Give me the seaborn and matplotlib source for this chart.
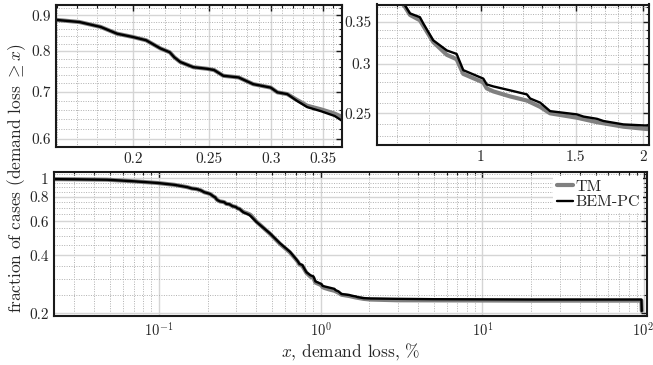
import numpy as np
import pandas as pd
import matplotlib
matplotlib.use("Agg")
import matplotlib.pyplot as plt
import seaborn as sns
from matplotlib.ticker import MultipleLocator, FuncFormatter, NullFormatter, LogLocator

# ---- data ----
bem_x = [0.0226, 0.03, 0.048, 0.07, 0.098, 0.125, 0.15, 0.16, 0.171, 0.182, 0.191, 0.200,
         0.208, 0.217, 0.223, 0.226, 0.230, 0.239, 0.249, 0.254, 0.261, 0.273, 0.285, 0.300,
         0.306, 0.315, 0.324, 0.334, 0.348, 0.362, 0.370, 0.40, 0.486, 0.561, 0.646, 0.70,
         0.723, 0.739, 0.771, 0.782, 0.816, 0.865, 0.902, 0.928, 1.011, 1.026, 1.055, 1.134,
         1.218, 1.235, 1.289, 1.345, 1.508, 1.552, 1.643, 1.69, 1.84, 2.03, 3.0, 5.0, 20.0,
         96.0, 96.5]
bem_y = [0.990, 0.988, 0.983, 0.965, 0.946, 0.925, 0.900, 0.886, 0.880, 0.866, 0.847, 0.838,
         0.829, 0.807, 0.797, 0.784, 0.772, 0.759, 0.755, 0.752, 0.738, 0.734, 0.718, 0.710,
         0.699, 0.695, 0.680, 0.666, 0.657, 0.647, 0.637, 0.596, 0.519, 0.461, 0.417, 0.385,
         0.372, 0.361, 0.356, 0.348, 0.327, 0.315, 0.311, 0.293, 0.284, 0.278, 0.276, 0.272,
         0.268, 0.264, 0.260, 0.252, 0.249, 0.247, 0.245, 0.243, 0.240, 0.239, 0.238, 0.237,
         0.236, 0.236, 0.206]

tm_x = [0.0226, 0.03, 0.048, 0.07, 0.098, 0.125, 0.15, 0.16, 0.171, 0.182, 0.191, 0.200,
        0.208, 0.217, 0.223, 0.226, 0.230, 0.239, 0.249, 0.254, 0.261, 0.273, 0.285, 0.300,
        0.306, 0.315, 0.324, 0.334, 0.348, 0.362, 0.370, 0.40, 0.486, 0.561, 0.646, 0.70,
        0.723, 0.739, 0.771, 0.782, 0.816, 0.865, 0.902, 0.928, 1.011, 1.026, 1.055, 1.134,
        1.218, 1.289, 1.345, 1.508, 1.643, 1.84, 2.03, 3.0, 20.0, 96.0, 96.5]
tm_y = [0.990, 0.988, 0.983, 0.965, 0.946, 0.925, 0.900, 0.886, 0.880, 0.866, 0.847, 0.838,
        0.829, 0.807, 0.797, 0.784, 0.772, 0.759, 0.755, 0.752, 0.738, 0.734, 0.718, 0.710,
        0.699, 0.695, 0.682, 0.669, 0.661, 0.652, 0.645, 0.598, 0.517, 0.458, 0.414, 0.383,
        0.370, 0.359, 0.352, 0.345, 0.325, 0.310, 0.305, 0.289, 0.280, 0.274, 0.271, 0.266,
        0.262, 0.256, 0.250, 0.246, 0.242, 0.238, 0.236, 0.234, 0.233, 0.233, 0.206]

methods = ["TM", "BEM-PC"]

df = pd.concat([
    pd.DataFrame({"x": tm_x, "y": tm_y, "method": "TM"}),
    pd.DataFrame({"x": bem_x, "y": bem_y, "method": "BEM-PC"}),
], ignore_index=True)

# ---- style ----
sns.set_theme(style="white")
plt.rcParams.update({
    "font.family": "serif",
    "font.serif": ["cmr10", "DejaVu Serif"],
    "mathtext.fontset": "cm",
    "axes.formatter.use_mathtext": True,
    "axes.unicode_minus": False,
    "font.size": 11,
})

palette = {"TM": "#808080", "BEM-PC": "#000000"}
sizes = {"TM": 3.0, "BEM-PC": 1.7}

W, H = 653, 365
fig = plt.figure(figsize=(W / 100, H / 100), dpi=100)

def rect(l, r, t, b):
    return [l / W, 1 - b / H, (r - l) / W, (b - t) / H]

ax1 = fig.add_axes(rect(56, 342, 4.5, 146.7))
ax2 = fig.add_axes(rect(376.7, 648.7, 4.5, 145))
ax3 = fig.add_axes(rect(54.3, 646.7, 172.3, 316))

gfmt = FuncFormatter(lambda v, p: "%g" % v)

def style_axes(ax):
    ax.set_xscale("log")
    ax.set_yscale("log")
    ax.grid(True, which="major", color="#d5d5d5", lw=1.0, ls="-")
    ax.grid(True, which="minor", color="#b0b0b0", lw=0.7, ls=(0, (1, 1.5)))
    ax.set_axisbelow(True)
    for s in ax.spines.values():
        s.set_color("#1a1a1a")
        s.set_linewidth(1.5)
    ax.tick_params(which="both", direction="in", top=True, right=True,
                   color="#1a1a1a", labelsize=11, pad=4)
    ax.tick_params(which="major", length=4, width=1.0)
    ax.tick_params(which="minor", length=2.5, width=0.8)
    ax.set_xlabel("")
    ax.set_ylabel("")

for ax, leg in [(ax1, False), (ax2, False), (ax3, True)]:
    sns.lineplot(data=df, x="x", y="y", hue="method", size="method",
                 hue_order=methods, size_order=methods,
                 palette=palette, sizes=sizes, sort=False, estimator=None,
                 legend=leg, ax=ax)
    style_axes(ax)

# top-left panel
ax1.set_xlim(0.1596, 0.370)
ax1.set_ylim(0.585, 0.932)
ax1.xaxis.set_major_locator(MultipleLocator(0.05))
ax1.xaxis.set_minor_locator(MultipleLocator(0.01))
ax1.yaxis.set_major_locator(MultipleLocator(0.1))
ax1.yaxis.set_minor_locator(MultipleLocator(0.02))
ax1.xaxis.set_major_formatter(gfmt)
ax1.yaxis.set_major_formatter(gfmt)
ax1.xaxis.set_minor_formatter(NullFormatter())
ax1.yaxis.set_minor_formatter(NullFormatter())

# top-right panel
ax2.set_xlim(0.641, 2.05)
ax2.set_ylim(0.2225, 0.373)
ax2.xaxis.set_major_locator(MultipleLocator(0.5))
ax2.xaxis.set_minor_locator(MultipleLocator(0.1))
ax2.yaxis.set_major_locator(MultipleLocator(0.05))
ax2.yaxis.set_minor_locator(MultipleLocator(0.01))
ax2.xaxis.set_major_formatter(gfmt)
ax2.yaxis.set_major_formatter(gfmt)
ax2.xaxis.set_minor_formatter(NullFormatter())
ax2.yaxis.set_minor_formatter(NullFormatter())

# bottom panel
ax3.set_xlim(0.0226, 103.5)
ax3.set_ylim(0.194, 1.074)
ax3.xaxis.set_major_locator(LogLocator(base=10, numticks=10))
ax3.xaxis.set_minor_locator(LogLocator(base=10, subs=np.arange(2, 10), numticks=20))
ax3.xaxis.set_minor_formatter(NullFormatter())
ax3.tick_params(axis="x", which="major", labelsize=10.5)
ax3.yaxis.set_major_locator(MultipleLocator(0.2))
ax3.yaxis.set_minor_locator(MultipleLocator(0.05))
ax3.yaxis.set_major_formatter(gfmt)
ax3.yaxis.set_minor_formatter(NullFormatter())
for lab in ax3.get_xticklabels():
    pass

leg = ax3.legend(loc="upper right", fontsize=11.5, handlelength=1.0, handletextpad=0.15,
                 labelspacing=0.1, borderaxespad=0.25, borderpad=0.2,
                 frameon=True, fancybox=False)
leg.get_frame().set_edgecolor("none")
leg.get_frame().set_facecolor("white")
leg.get_frame().set_alpha(1.0)

fig.text(0.025, 0.51, r"fraction of cases (demand loss $\geq x$)", rotation=90,
         ha="center", va="center", fontsize=12.5)
fig.text(350.5 / W, 1 - 352 / H, r"$x$, demand loss, %", ha="center", va="center",
         fontsize=12.5)

# keep the rightmost bottom tick label inside the canvas
fig.canvas.draw()
for lab in ax3.get_xticklabels():
    if lab.get_position()[0] > 50:
        lab.set_horizontalalignment("right")
        lab.set_x(lab.get_position()[0])
        from matplotlib.transforms import ScaledTranslation
        lab.set_transform(lab.get_transform() + ScaledTranslation(0.1, 0, fig.dpi_scale_trans))

fig.savefig("out.png", dpi=100)
